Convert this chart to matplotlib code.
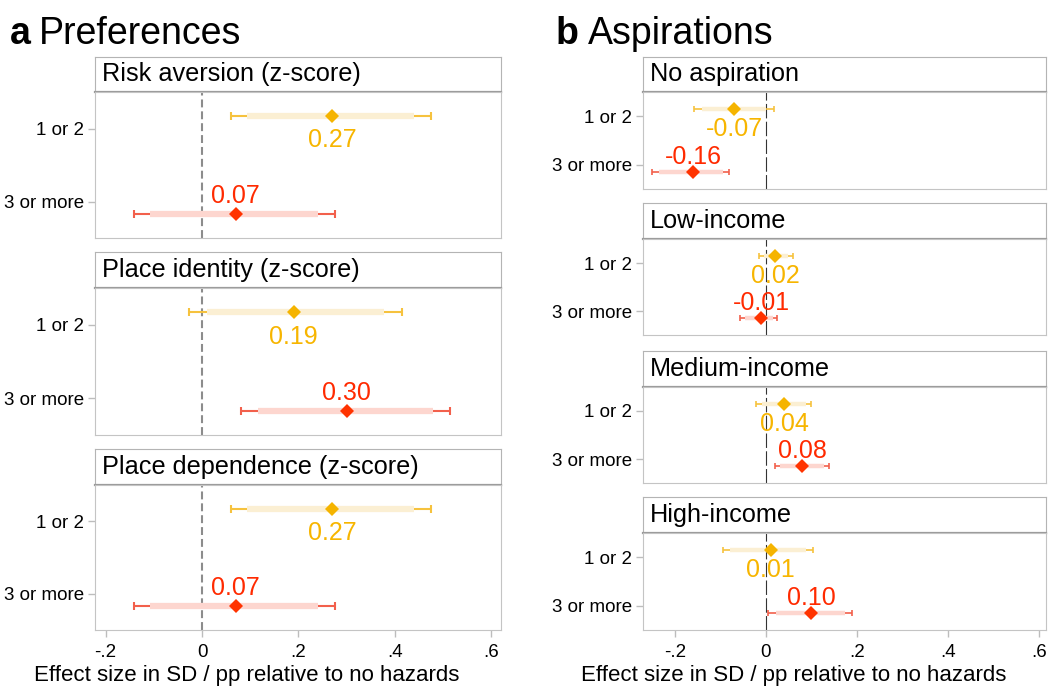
import matplotlib.pyplot as plt
import numpy as np

plt.rcParams['font.family'] = ['Liberation Sans', 'DejaVu Sans']

groups = ['1 or 2', '3 or more']

# a: preferences
pref_titles = ['Risk aversion (z-score)', 'Place identity (z-score)',
               'Place dependence (z-score)']
pref_est = [[0.27, 0.07], [0.19, 0.30], [0.27, 0.07]]
pref_lo95 = [[0.060, -0.142], [-0.027, 0.080], [0.060, -0.142]]
pref_hi95 = [[0.475, 0.276], [0.414, 0.515], [0.475, 0.276]]
pref_lo90 = [[0.093, -0.108], [0.010, 0.116], [0.093, -0.108]]
pref_hi90 = [[0.439, 0.240], [0.377, 0.479], [0.439, 0.240]]

# b: aspirations
asp_titles = ['No aspiration', 'Low-income', 'Medium-income', 'High-income']
asp_est = [[-0.07, -0.16], [0.02, -0.01], [0.04, 0.08], [0.01, 0.10]]
asp_lo95 = [[-0.158, -0.251], [-0.015, -0.056], [-0.022, 0.020], [-0.095, 0.005]]
asp_hi95 = [[0.017, -0.081], [0.059, 0.025], [0.099, 0.139], [0.104, 0.190]]
asp_lo90 = [[-0.141, -0.235], [-0.004, -0.046], [-0.009, 0.031], [-0.079, 0.022]]
asp_hi90 = [[0.001, -0.095], [0.049, 0.015], [0.087, 0.128], [0.088, 0.174]]

xticks = [-0.2, 0, 0.2, 0.4, 0.6]
xtick_labels = ['-.2', '0', '.2', '.4', '.6']

marker_colors = ['#F5B400', '#FF3300']
line_colors = ['#F6C23E', '#F2604C']
band_colors = ['#FBEFD3', '#FDD6CF']
text_colors = ['#F7B500', '#FF2A00']

W, H = 1048, 698
fig = plt.figure(figsize=(W / 100, H / 100), dpi=100)


def px_axes(x0, y0, x1, y1):
    return fig.add_axes([x0 / W, 1 - y1 / H, (x1 - x0) / W, (y1 - y0) / H])


def header(x0, x1, y0, y1, title):
    ax = px_axes(x0, y0, x1, y1)
    ax.set_xticks([])
    ax.set_yticks([])
    for side in ['top', 'left', 'right']:
        ax.spines[side].set_color('#B4B4B4')
    ax.spines['bottom'].set_color('#9A9A9A')
    ax.spines['bottom'].set_linewidth(1.6)
    ax.text(7 / (x1 - x0), 0.5, title, transform=ax.transAxes,
            ha='left', va='center', fontsize=18.2)


def panel(ax, est, lo95, hi95, lo90, hi90, xlim, sizes, zero_style):
    lw_thin, lw_band, ms, cap, off, lab_down, lab_up = sizes
    ax.set_xlim(*xlim)
    ax.set_ylim(2.5, 0.5)
    ax.axvline(0, zorder=1, **zero_style)
    for i in range(2):
        y = i + 1 + (off if i == 1 else -off)
        ax.errorbar(est[i], y, xerr=[[est[i] - lo95[i]], [hi95[i] - est[i]]],
                    fmt='none', ecolor=line_colors[i], elinewidth=lw_thin,
                    capsize=cap, capthick=lw_thin, zorder=2)
        ax.hlines(y, lo90[i], hi90[i], color=band_colors[i], lw=lw_band,
                  capstyle='butt', zorder=3)
        ax.plot(est[i], y, 'D', color=marker_colors[i], ms=ms, mew=0,
                zorder=4)
        dy = -lab_down if i == 0 else lab_up
        ax.annotate(f'{est[i]:.2f}', (est[i], y), xytext=(0, dy),
                    textcoords='offset points', ha='center', va='center',
                    fontsize=18, color=text_colors[i], zorder=5)
    ax.set_yticks([1, 2])
    ax.set_yticklabels(groups, fontsize=13.5)
    ax.tick_params(axis='y', length=5, width=1, color='#BDBDBD', pad=3)
    for s in ax.spines.values():
        s.set_color('#C4C4C4')


def x_axis(ax, show):
    ax.set_xticks(xticks)
    if show:
        ax.set_xticklabels(xtick_labels, fontsize=13.5)
        ax.tick_params(axis='x', length=5, width=1, color='#BDBDBD',
                       pad=5, direction='out')
    else:
        ax.tick_params(axis='x', length=0, labelbottom=False)


# left column
left_x0, left_x1 = 95, 501
left_rows = [(57, 92, 238), (252, 288, 435), (449, 485, 630)]
left_sizes = (1.5, 4.5, 7.5, 3, 0.17, 17.5, 13)
left_zero = dict(color='#8C8C8C', lw=1.5, dashes=(3.8, 1.9))
for k, (h0, h1, b) in enumerate(left_rows):
    header(left_x0, left_x1, h0, h1, pref_titles[k])
    ax = px_axes(left_x0, h1, left_x1, b)
    panel(ax, pref_est[k], pref_lo95[k], pref_hi95[k], pref_lo90[k],
          pref_hi90[k], (-0.222, 0.62), left_sizes, left_zero)
    x_axis(ax, k == len(left_rows) - 1)

# right column
right_x0, right_x1 = 643, 1046
right_rows = [(57, 92, 189), (203, 239, 335), (351, 387, 483), (497, 533, 630)]
right_sizes = (1.2, 3.2, 6.8, 2.5, 0.155, 14.5, 11)
right_zero = dict(color='#333333', lw=0.8, dashes=(13, 3))
for k, (h0, h1, b) in enumerate(right_rows):
    header(right_x0, right_x1, h0, h1, asp_titles[k])
    ax = px_axes(right_x0, h1, right_x1, b)
    panel(ax, asp_est[k], asp_lo95[k], asp_hi95[k], asp_lo90[k],
          asp_hi90[k], (-0.27, 0.615), right_sizes, right_zero)
    x_axis(ax, k == len(right_rows) - 1)

# panel titles and axis captions
fig.text(10 / W, 1 - 44 / H, 'a', fontsize=27, fontweight='bold',
         va='baseline')
fig.text(39 / W, 1 - 44 / H, 'Preferences', fontsize=27, va='baseline')
fig.text(556 / W, 1 - 44 / H, 'b', fontsize=27, fontweight='bold',
         va='baseline')
fig.text(588 / W, 1 - 44 / H, 'Aspirations', fontsize=27, va='baseline')

xlabel = 'Effect size in SD / pp relative to no hazards'
fig.text(247 / W, 1 - 675 / H, xlabel, fontsize=16, ha='center',
         va='center')
fig.text(794 / W, 1 - 675 / H, xlabel, fontsize=16, ha='center',
         va='center')

fig.savefig('out.png', dpi=100, facecolor='white')
